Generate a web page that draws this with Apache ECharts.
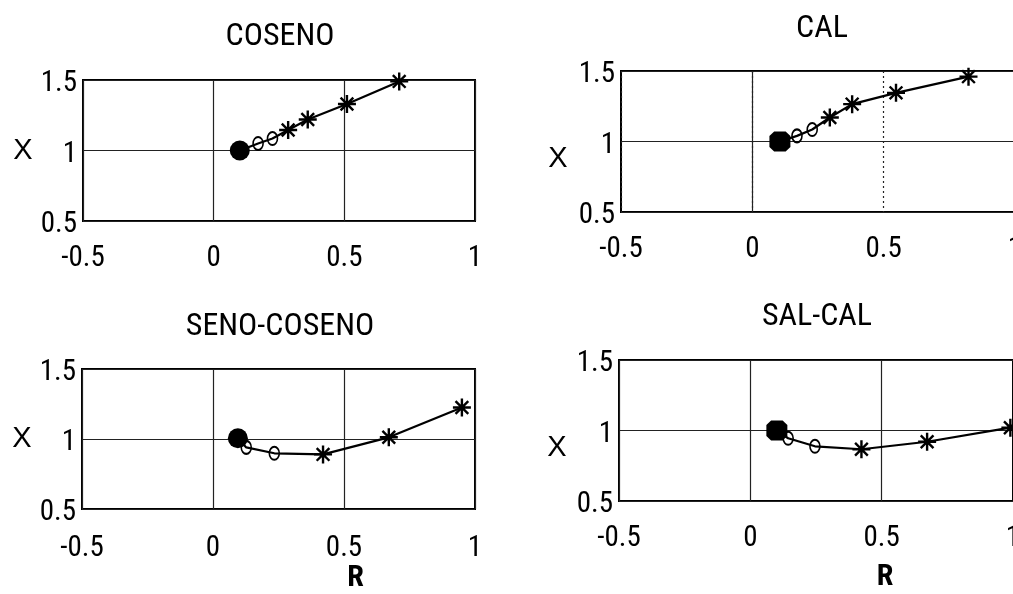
<!DOCTYPE html>
<html>
<head>
<meta charset="utf-8">
<script src="https://cdn.jsdelivr.net/npm/echarts@6/dist/echarts.min.js"></script>
<style>
  html, body { margin: 0; padding: 0; background: #fff; }
  #chart { width: 1013px; height: 594px; }
</style>
</head>
<body>
<div id="chart"></div>
<script>
// Panel titles
const panelTitles = ['COSENO', 'CAL', 'SENO-COSENO', 'SAL-CAL'];

// Tick values shared by every panel
const rTicks = [-0.5, 0, 0.5, 1];
const xTicks = [0.5, 1, 1.5];

// COSENO
const cosenoR = [0.10, 0.17, 0.225, 0.285, 0.36, 0.51, 0.71];
const cosenoX = [1.00, 1.05, 1.085, 1.145, 1.22, 1.33, 1.49];
const cosenoMarks = ['start', 'open', 'open', 'star', 'star', 'star', 'star'];

// CAL
const calR = [0.105, 0.17, 0.228, 0.295, 0.38, 0.547, 0.823];
const calX = [1.00, 1.04, 1.085, 1.17, 1.265, 1.345, 1.46];
const calMarks = ['start', 'open', 'open', 'star', 'star', 'star', 'star'];

// SENO-COSENO
const senoR = [0.095, 0.127, 0.234, 0.42, 0.671, 0.95];
const senoX = [1.005, 0.94, 0.898, 0.89, 1.012, 1.225];
const senoMarks = ['start', 'open', 'open', 'star', 'star', 'star'];

// SAL-CAL
const salR = [0.101, 0.144, 0.246, 0.423, 0.673, 0.99];
const salX = [1.00, 0.945, 0.888, 0.867, 0.92, 1.02];
const salMarks = ['start', 'open', 'open', 'star', 'star', 'star'];

const FONT = '"Roboto Condensed", "Liberation Sans Narrow", "Arial Narrow", sans-serif';
const NAME_FONT = '"Liberation Sans", Arial, sans-serif';

const STAR = 'path://M0,-10L0,10M-10,0L10,0M-7.07,-7.07L7.07,7.07M-7.07,7.07L7.07,-7.07';
const OCTAGON = 'path://M-1,-0.55L-0.55,-1L0.55,-1L1,-0.55L1,0.55L0.55,1L-0.55,1L-1,0.55Z';

// layout of the four panels; dottedR: the R grid lines are dotted, with a solid line kept at R = 0
const panels = [
  { r: cosenoR, x: cosenoX, marks: cosenoMarks, start: 'circle', dottedR: false,
    grid: { left: 83, top: 80, width: 392, height: 141 },
    title: [280, 37], labelMargin: 23, yNameGap: 60, yNameShift: 0, rName: null },
  { r: calR, x: calX, marks: calMarks, start: OCTAGON, dottedR: true,
    grid: { left: 621, top: 71, width: 394, height: 141 },
    title: [822, 29], labelMargin: 23, yNameGap: 63, yNameShift: 34, rName: null },
  { r: senoR, x: senoX, marks: senoMarks, start: 'circle', dottedR: false,
    grid: { left: 82, top: 369, width: 393, height: 140 },
    title: [280, 327], labelMargin: 25, yNameGap: 60, yNameShift: 0, rName: { gap: 53, pad: 154 } },
  { r: salR, x: salX, marks: salMarks, start: OCTAGON, dottedR: false,
    grid: { left: 619, top: 360, width: 394, height: 141 },
    title: [817, 317], labelMargin: 23, yNameGap: 62, yNameShift: 34, rName: { gap: 61, pad: 138 } }
];

function markerItem(kind, startSymbol) {
  if (kind === 'start') {
    return { symbol: startSymbol, symbolSize: startSymbol === 'circle' ? 20 : [21, 20],
             itemStyle: { color: '#000', borderColor: '#000', borderWidth: 0 } };
  }
  if (kind === 'open') {
    return { symbol: 'circle', symbolSize: [10, 13],
             itemStyle: { color: 'rgba(255,255,255,0)', borderColor: '#000', borderWidth: 1.8 } };
  }
  return { symbol: STAR, symbolSize: 18,
           itemStyle: { color: 'rgba(0,0,0,0)', borderColor: '#000', borderWidth: 2.4 } };
}

const option = {
  backgroundColor: '#fff',
  animation: false,
  title: panels.map((p, i) => ({
    text: panelTitles[i],
    left: p.title[0], top: p.title[1],
    textAlign: 'center', textVerticalAlign: 'middle',
    padding: 0,
    textStyle: { fontFamily: FONT, fontSize: 32, fontWeight: 'normal', color: '#000' }
  })),
  grid: panels.map(p => Object.assign({ show: true, borderColor: '#000', borderWidth: 2,
                                        backgroundColor: '#fff', outerBoundsMode: 'none',
                                        containLabel: false }, p.grid)),
  xAxis: panels.map((p, i) => ({
    type: 'value', gridIndex: i,
    min: rTicks[0], max: rTicks[rTicks.length - 1], interval: rTicks[1] - rTicks[0],
    axisLine: { show: false }, axisTick: { show: false },
    splitLine: { show: true, lineStyle: { color: '#222', width: 1.2, type: p.dottedR ? [2, 3] : 'solid' } },
    axisLabel: { color: '#000', fontFamily: FONT, fontSize: 29, margin: p.labelMargin },
    name: p.rName ? 'R' : '',
    nameLocation: 'middle',
    nameGap: p.rName ? p.rName.gap : 0,
    nameTextStyle: p.rName ? { fontFamily: FONT, fontSize: 30, fontWeight: 'bold', color: '#000',
                               padding: [0, 0, 0, p.rName.pad] } : {}
  })),
  yAxis: panels.map((p, i) => ({
    type: 'value', gridIndex: i,
    min: xTicks[0], max: xTicks[xTicks.length - 1], interval: xTicks[1] - xTicks[0],
    axisLine: { show: false }, axisTick: { show: false },
    splitLine: { show: true, lineStyle: { color: '#222', width: 1.2 } },
    axisLabel: { color: '#000', fontFamily: FONT, fontSize: 29, margin: 6,
                 verticalAlign: 'top', lineHeight: 8 },
    name: 'X', nameLocation: 'middle', nameRotate: 0, nameGap: p.yNameGap,
    nameTextStyle: Object.assign({ fontFamily: NAME_FONT, fontSize: 29, color: '#000', align: 'center' },
      p.yNameShift ? { verticalAlign: 'top', lineHeight: p.yNameShift } : { verticalAlign: 'middle' })
  })),
  series: panels.map((p, i) => ({
    type: 'line', xAxisIndex: i, yAxisIndex: i,
    lineStyle: { color: '#000', width: 2.2 },
    showAllSymbol: true,
    z: 3,
    markLine: p.dottedR ? {
      silent: true, symbol: 'none', z: 1, animation: false,
      label: { show: false },
      lineStyle: { color: '#222', width: 1.2, type: 'solid' },
      data: [{ xAxis: rTicks[1] }]
    } : undefined,
    data: p.r.map((rv, k) => Object.assign({ value: [rv, p.x[k]] }, markerItem(p.marks[k], p.start)))
  }))
};

const chart = echarts.init(document.getElementById('chart'), null, { renderer: 'canvas' });
chart.setOption(option);
</script>
</body>
</html>
